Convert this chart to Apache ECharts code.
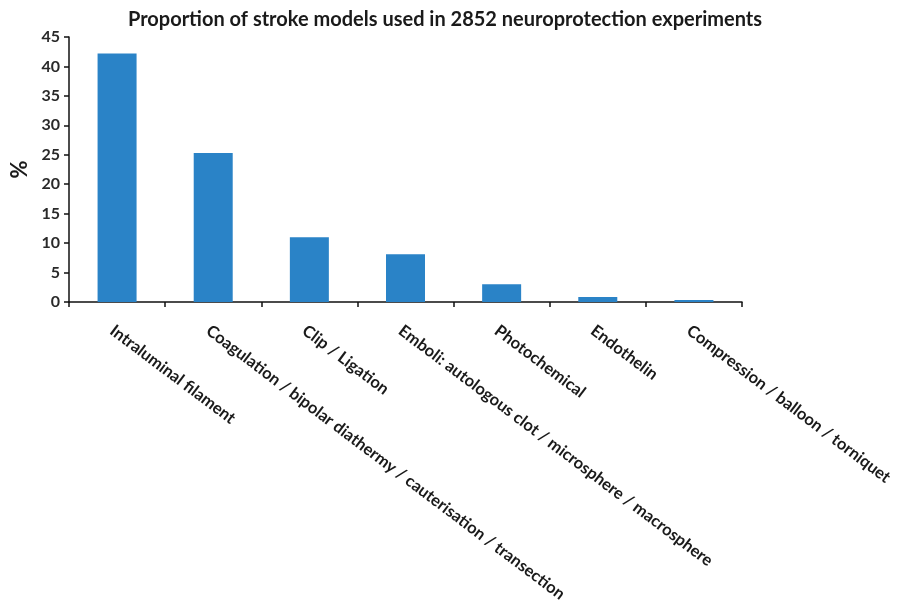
<!DOCTYPE html>
<html>
<head>
<meta charset="utf-8">
<script src="https://cdn.jsdelivr.net/npm/echarts@6/dist/echarts.min.js"></script>
<style>html,body{margin:0;padding:0;background:#fff}#c{width:900px;height:610px}</style>
</head>
<body>
<div id="c"></div>
<script>
const categories = [
  "Intraluminal filament",
  "Coagulation / bipolar diathermy / cauterisation / transection",
  "Clip / Ligation",
  "Emboli: autologous clot / microsphere / macrosphere",
  "Photochemical",
  "Endothelin",
  "Compression / balloon / torniquet"
];
const percentValues = [42.2, 25.3, 11.0, 8.1, 3.0, 0.85, 0.35];
const titleText = "Proportion of stroke models used in 2852 neuroprotection experiments";
const yAxisName = "%";

const FONT = "Lato, 'Open Sans', sans-serif";
const chart = echarts.init(document.getElementById('c'), null, {renderer: 'canvas'});
chart.setOption({
  animation: false,
  backgroundColor: '#ffffff',
  title: {
    text: titleText,
    left: 440, top: 5, textAlign: 'center',
    textStyle: {fontFamily: FONT, fontWeight: 'bold', fontSize: 20, color: '#1a1a1a'}
  },
  grid: {left: 69, right: 158, top: 37, bottom: 308, containLabel: false},
  xAxis: {
    type: 'category',
    data: categories,
    axisLine: {lineStyle: {color: '#111', width: 1.5}},
    axisTick: {show: true, inside: false, length: 5, alignWithLabel: false, lineStyle: {color: '#111', width: 1.5}},
    axisLabel: {
      interval: 0, rotate: -37, margin: 20, verticalAlign: 'top',
      fontFamily: FONT, fontWeight: 'bold', fontSize: 16.5, color: '#1a1a1a'
    }
  },
  yAxis: {
    type: 'value', min: 0, max: 45, interval: 5,
    name: yAxisName, nameLocation: 'middle', nameGap: 38, nameRotate: 90,
    nameTextStyle: {fontFamily: FONT, fontWeight: 'bold', fontSize: 22, color: '#1a1a1a'},
    axisLine: {show: true, lineStyle: {color: '#111', width: 1.5}},
    axisTick: {show: true, inside: false, length: 5, lineStyle: {color: '#111', width: 1.5}},
    axisLabel: {fontFamily: FONT, fontWeight: 'bold', fontSize: 16, color: '#2a2a2a', margin: 9},
    splitLine: {show: false}
  },
  series: [{
    type: 'bar',
    data: percentValues,
    barWidth: 39,
    itemStyle: {color: '#2A83C7'}
  }]
});
</script>
</body>
</html>
